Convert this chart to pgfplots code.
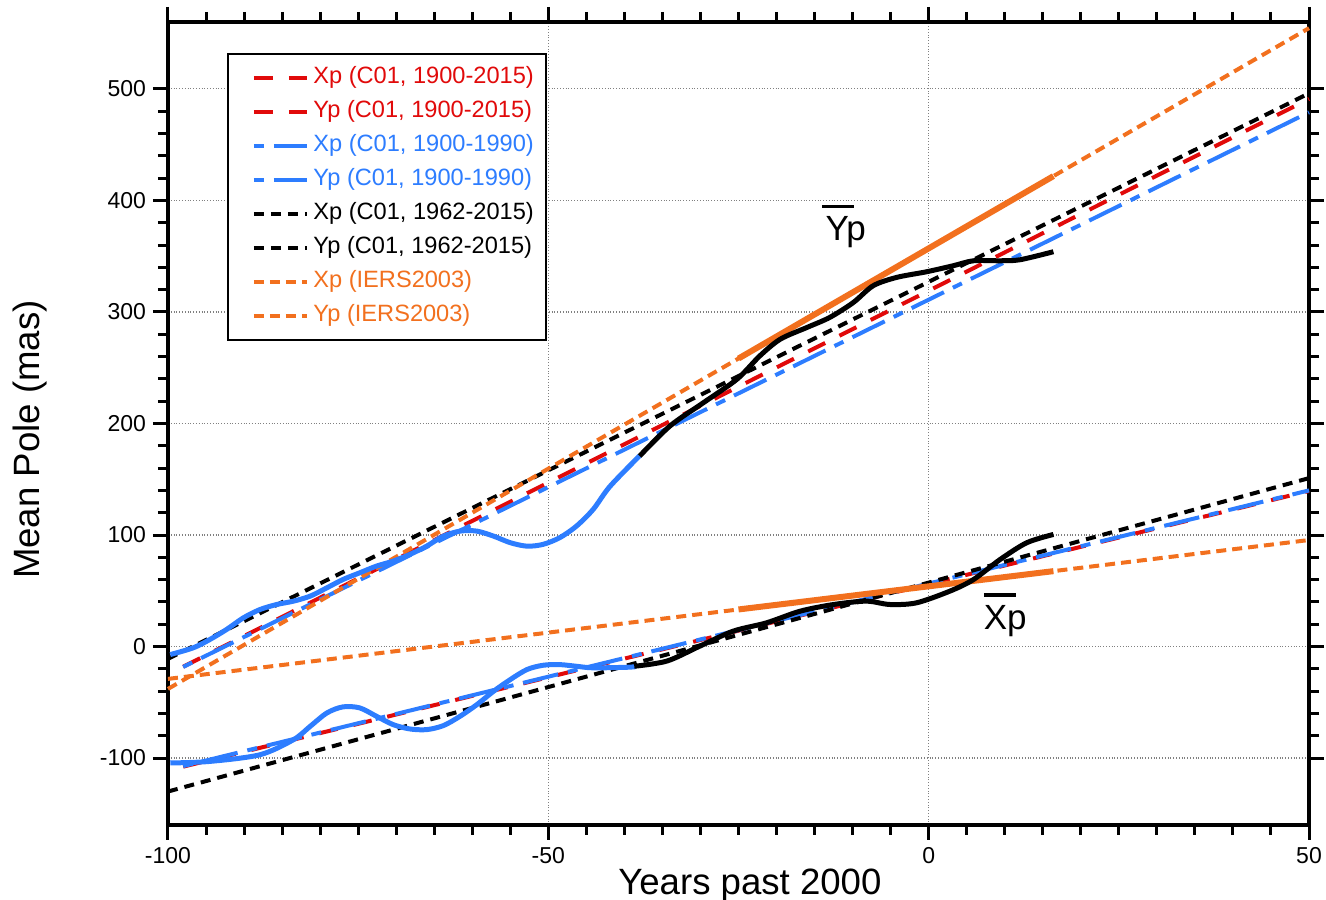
\documentclass[border=0pt]{standalone}
\usepackage{pgfplots}
\pgfplotsset{compat=1.18}
\usepackage{fontspec}
\setmainfont{Liberation Sans}

\definecolor{cred}{RGB}{225,10,10}
\definecolor{cblue}{RGB}{45,125,255}
\definecolor{corange}{RGB}{242,112,30}

\begin{document}
\begin{tikzpicture}
\begin{axis}[
  name=ax,
  scale only axis,
  width=570.5pt, height=401.5pt,
  xmin=-100, xmax=50, ymin=-160, ymax=560,
  xtick={-100,-50,0,50},
  ytick={-100,0,100,200,300,400,500},
  minor x tick num=9, minor y tick num=4,
  tick align=outside,
  major tick length=7.5pt, minor tick length=5pt,
  every tick/.style={black, line width=1.5pt},
  axis line style={line width=2pt},
  grid=major,
  major grid style={densely dotted, gray, line width=0.6pt},
  tick label style={font=\fontsize{11.5}{13}\selectfont},
  /pgf/number format/assume math mode=true,
  xlabel={Years past 2000},
  ylabel={Mean Pole (mas)},
  label style={font=\fontsize{18.3}{21}\selectfont},
  xlabel style={at={(rel axis cs:0.510,-0.086)}, anchor=base},
  ylabel style={at={(rel axis cs:-0.121,0.48)}, anchor=center},
  clip=false,
  legend cell align=left,
  legend style={at={(rel axis cs:0.0517,0.9614)}, anchor=north west,
    draw=black, line width=1pt, fill=white,
    font=\fontsize{11.8}{13}\selectfont,
    nodes={text height=8.5pt, text depth=2.5pt, inner ysep=1.5pt},
    row sep=3pt, inner xsep=4pt, inner ysep=5pt},
  legend image code/.code={\path (0cm,0cm); \draw[#1] (0.28cm,0cm) -- (1.22cm,0cm);},
]
% C01 fit, 1900-2015
\addplot[cred, line width=2pt, dash pattern=on 9.5pt off 8pt] coordinates {(-98,-107.7) (50,139.5)};
\addlegendentry{\textcolor{cred}{Xp (C01, 1900-2015)}}
\addplot[cred, line width=2pt, dash pattern=on 9.5pt off 8pt] coordinates {(-98,-18.1) (50,491)};
\addlegendentry{\textcolor{cred}{Yp (C01, 1900-2015)}}
% C01 fit, 1900-1990
\addplot[cblue, line width=2pt, dash pattern=on 5pt off 5pt on 18pt off 5pt] coordinates {(-98,-107.2) (50,140)};
\addlegendentry{\textcolor{cblue}{Xp (C01, 1900-1990)}}
\addplot[cblue, line width=2pt, dash pattern=on 5pt off 5pt on 18pt off 5pt] coordinates {(-98,-18.3) (50,479)};
\addlegendentry{\textcolor{cblue}{Yp (C01, 1900-1990)}}
% C01 fit, 1962-2015
\addplot[black, line width=2pt, dash pattern=on 5pt off 3.5pt] coordinates {(-100,-130) (50,151)};
\addlegendentry{Xp (C01, 1962-2015)}
\addplot[black, line width=2pt, dash pattern=on 5pt off 3.5pt] coordinates {(-100,-11) (50,496)};
\addlegendentry{Yp (C01, 1962-2015)}
% IERS2003
\addplot[corange, line width=2pt, dash pattern=on 5pt off 3pt] coordinates {(-100,-29) (50,95.5)};
\addlegendentry{\textcolor{corange}{Xp (IERS2003)}}
\addplot[corange, line width=2pt, dash pattern=on 5pt off 3pt] coordinates {(-100,-38) (50,554.5)};
\addlegendentry{\textcolor{corange}{Yp (IERS2003)}}

% IERS2003 over the observed span
\addplot[corange, line width=3pt, forget plot] coordinates {(-25,33.25) (16.4,67.6)};
\addplot[corange, line width=3pt, forget plot] coordinates {(-25,258.25) (16.4,421.8)};

% smoothed mean pole, early part
\addplot[cblue, line width=2.5pt, smooth, forget plot] coordinates {
(-99.7,-104.4) (-94.5,-103.0) (-87.9,-97.0) (-83.5,-83.5) (-81.3,-71.5)
(-79.1,-59.5) (-77.0,-54.1) (-74.8,-55.0) (-72.6,-62.5) (-70.4,-70.0)
(-68.2,-73.9) (-66.0,-74.5) (-63.8,-70.9) (-61.6,-62.5) (-59.4,-52.1)
(-57.2,-40.1) (-55.0,-29.6) (-52.8,-20.6) (-50.7,-16.8) (-48.5,-16.2)
(-46.3,-17.7) (-44.1,-19.1) (-39.7,-18.6) (-38.5,-18.0)};
\addplot[cblue, line width=2.5pt, smooth, forget plot] coordinates {
(-99.7,-7.2) (-96.7,-1.2) (-94.5,6.3) (-92.3,15.3) (-90.1,25.7)
(-87.9,33.2) (-85.7,37.7) (-83.5,40.7) (-81.3,45.2) (-79.1,52.7)
(-77.0,60.1) (-74.8,66.1) (-72.6,72.1) (-70.4,76.6) (-68.2,82.6)
(-66.0,90.0) (-63.8,99.0) (-61.6,103.5) (-59.4,103.5) (-57.2,99.0)
(-55.0,93.1) (-52.8,90.0) (-50.7,91.6) (-48.5,97.6) (-46.3,108.0)
(-44.1,123.0) (-41.9,143.6) (-38.0,171.0)};
% smoothed mean pole, late part
\addplot[black, line width=2.5pt, smooth, forget plot] coordinates {
(-38.7,-17.7) (-34.4,-13.0) (-30.1,0.3) (-25.7,13.8) (-21.3,21.3)
(-16.9,31.7) (-12.5,37.7) (-8.2,40.7) (-5.1,37.7) (-1.6,39.2)
(2.8,49.7) (5.9,60.1) (9.4,78.1) (12.9,93.1) (16.4,100.5)};
\addplot[black, line width=2.5pt, smooth, forget plot] coordinates {
(-38.0,170.8) (-34.0,197.8) (-29.6,218.7) (-25.2,239.7) (-22.2,260.6)
(-19.5,275.6) (-16.0,286.1) (-13.0,295.1) (-9.9,308.5) (-7.3,323.5)
(-4.2,331.0) (-0.3,336.0) (3.2,341.4) (5.9,345.9) (9.4,345.9)
(12.0,346.8) (16.4,354.0)};

\node[anchor=base west, font=\fontsize{17.5}{20}\selectfont, inner sep=0pt]
  at (axis cs:-13.6,363.8) {\rlap{\hspace{-0.1em}\rule[0.93em]{0.92em}{1.8pt}}Yp};
\node[anchor=base west, font=\fontsize{17.5}{20}\selectfont, inner sep=0pt]
  at (axis cs:7.2,15.3) {\rlap{\rule[0.93em]{0.92em}{1.8pt}}Xp};
\end{axis}
\pgfresetboundingbox
\useasboundingbox ([xshift=-84pt,yshift=-37.5pt]ax.south west) rectangle ([xshift=8.5pt,yshift=11pt]ax.north east);
\end{tikzpicture}
\end{document}
